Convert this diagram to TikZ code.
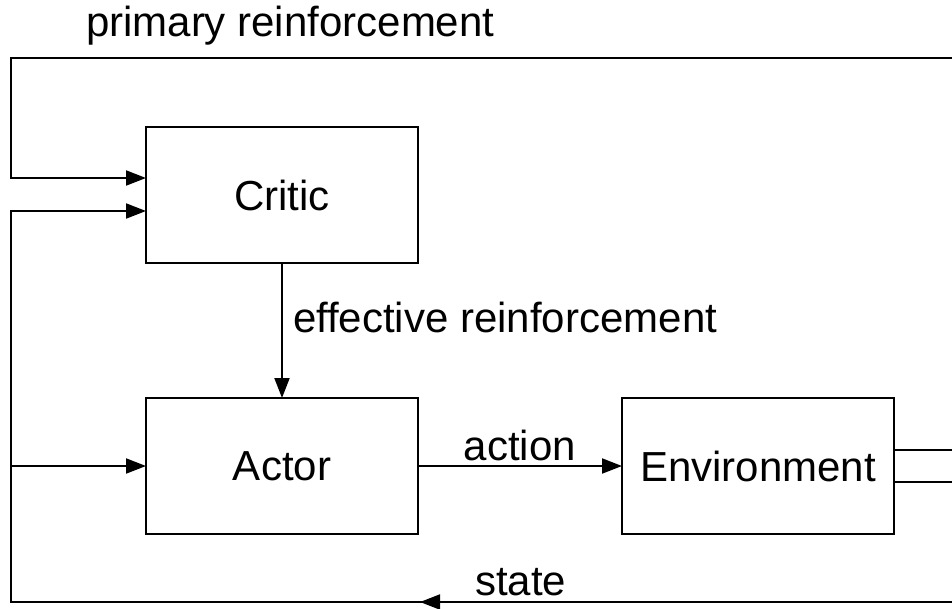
\documentclass[tikz,border=0pt]{standalone}
\usepackage{fontspec}
\setmainfont{Liberation Sans}
\usetikzlibrary{arrows.meta}
\begin{document}
\begin{tikzpicture}[x=1pt,y=-1pt,line width=2pt,
  box/.style={draw,minimum width=272pt,minimum height=136pt,inner sep=0pt,outer sep=0pt,font=\fontsize{42}{50}\selectfont},
  arr/.style={-{Triangle[length=20pt,width=15pt]}},
  lbl/.style={inner sep=0pt,font=\fontsize{42}{50}\selectfont}]
\useasboundingbox (0,0) rectangle (952,608);
\node[box] (critic) at (282,195) {Critic};
\node[box] (actor) at (282,466) {Actor};
\node[box] (env) at (758,466) {Environment};
\coordinate (tr) at (952,58);
\coordinate (tl) at (11,58);
\coordinate (br) at (952,602);
\coordinate (bl) at (11,602);
\coordinate (h1) at (0,178);
\coordinate (h2) at (0,211);
\coordinate (er1) at (952,450);
\coordinate (er2) at (952,482);
\coordinate (sa) at (446,602);
\coordinate (sb) at (420,602);
\draw[arr] (tr) -- (tl) -- (tl |- h1) -- (critic.west |- h1);
\draw[arr] (br) -- (bl) -- (bl |- h2) -- (critic.west |- h2);
\draw[arr] (bl |- actor.west) -- (actor.west);
\draw[arr] (sa) -- (sb);
\draw[arr] (critic.south) -- (actor.north);
\draw[arr] (actor.east) -- (env.west);
\draw (env.east |- er1) -- (er1);
\draw (env.east |- er2) -- (er2);
\node[lbl,anchor=base west] (prim) at (85,36) {primary reinforcement};
\node[lbl,anchor=base west] (eff) at (292,332) {effective reinforcement};
\node[lbl,anchor=base] (act) at (520,460) {action};
\node[lbl,anchor=base west] (st) at (474,595) {state};
\end{tikzpicture}
\end{document}
